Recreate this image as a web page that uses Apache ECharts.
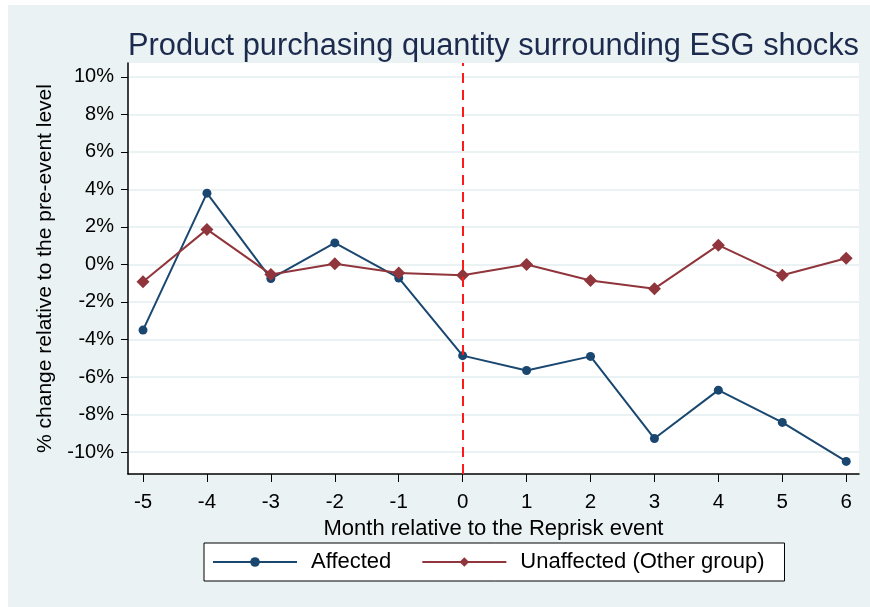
<!DOCTYPE html>
<html>
<head>
<meta charset="utf-8">
<script src="https://cdn.jsdelivr.net/npm/echarts@6/dist/echarts.min.js"></script>
<style>
  html, body { margin: 0; padding: 0; background: #fff; }
  #chart { width: 870px; height: 607px; }
</style>
</head>
<body>
<div id="chart"></div>
<script>
// months relative to the event
const months = [-5, -4, -3, -2, -1, 0, 1, 2, 3, 4, 5, 6];
// % change
const affected = [-3.5, 3.8, -0.75, 1.15, -0.72, -4.86, -5.65, -4.9, -9.28, -6.7, -8.42, -10.5];
const unaffected = [-0.92, 1.87, -0.53, 0.04, -0.45, -0.57, 0.0, -0.85, -1.29, 1.03, -0.57, 0.33];
const yTicks = [-10, -8, -6, -4, -2, 0, 2, 4, 6, 8, 10];

const font = 'Liberation Sans, Arial, sans-serif';
const blue = '#1a476f';
const red = '#90353b';

const chart = echarts.init(document.getElementById('chart'));

chart.setOption({
  backgroundColor: '#ffffff',
  animation: false,
  textStyle: { fontFamily: font },
  graphic: [{
    type: 'rect',
    z: -10,
    shape: { x: 8, y: 5, width: 870, height: 610 },
    style: { fill: '#eaf2f3' }
  }],
  title: {
    text: 'Product purchasing quantity surrounding ESG shocks',
    left: 123,
    top: 26,
    textStyle: { fontSize: 30.8, fontWeight: 'normal', color: '#1c2a4e', fontFamily: font }
  },
  grid: {
    left: 128, right: 11, top: 63, bottom: 133,
    show: true, backgroundColor: '#ffffff', borderWidth: 0
  },
  xAxis: {
    type: 'value',
    min: -5.235, max: 6.2,
    name: 'Month relative to the Reprisk event',
    nameLocation: 'middle',
    nameGap: 35,
    nameTextStyle: { fontSize: 22, color: '#000' },
    axisLine: { show: true, onZero: false, lineStyle: { color: '#000', width: 1.5 } },
    axisTick: { show: true, length: 8, customValues: months, lineStyle: { color: '#000' } },
    axisLabel: { customValues: months, fontSize: 20.5, color: '#000', margin: 18 },
    splitLine: { show: false }
  },
  yAxis: {
    type: 'value',
    min: -11.17, max: 10.74,
    name: '% change relative to the pre-event level',
    nameLocation: 'middle',
    nameGap: 72,
    nameTextStyle: { fontSize: 21, color: '#000' },
    axisLine: { show: true, onZero: false, lineStyle: { color: '#000', width: 1.5 } },
    axisTick: { show: true, length: 7, customValues: yTicks, lineStyle: { color: '#000' } },
    axisLabel: {
      customValues: yTicks, fontSize: 20, color: '#000', margin: 14,
      formatter: v => v + '%'
    },
    splitLine: { show: true, lineStyle: { color: '#eaf2f3', width: 2 } }
  },
  legend: {
    left: 204, top: 543,
    padding: [8, 20, 8, 8],
    itemWidth: 84, itemHeight: 12, itemGap: 30,
    backgroundColor: '#ffffff',
    borderColor: '#000', borderWidth: 1,
    textStyle: { fontSize: 22, color: '#000', padding: [0, 0, 0, 9] },
    data: ['Affected', 'Unaffected (Other group)']
  },
  series: [
    {
      name: 'Affected',
      type: 'line',
      data: months.map((m, i) => [m, affected[i]]),
      symbol: 'circle', symbolSize: 9,
      lineStyle: { color: blue, width: 2 },
      itemStyle: { color: blue },
      z: 3
    },
    {
      name: 'Unaffected (Other group)',
      type: 'line',
      data: months.map((m, i) => [m, unaffected[i]]),
      symbol: 'diamond', symbolSize: 13,
      lineStyle: { color: red, width: 2 },
      itemStyle: { color: red },
      z: 4,
      markLine: {
        silent: true,
        symbol: 'none',
        label: { show: false },
        lineStyle: { color: '#ff1a1a', type: [10, 7], width: 2 },
        data: [{ xAxis: 0 }]
      }
    }
  ]
});
</script>
</body>
</html>
